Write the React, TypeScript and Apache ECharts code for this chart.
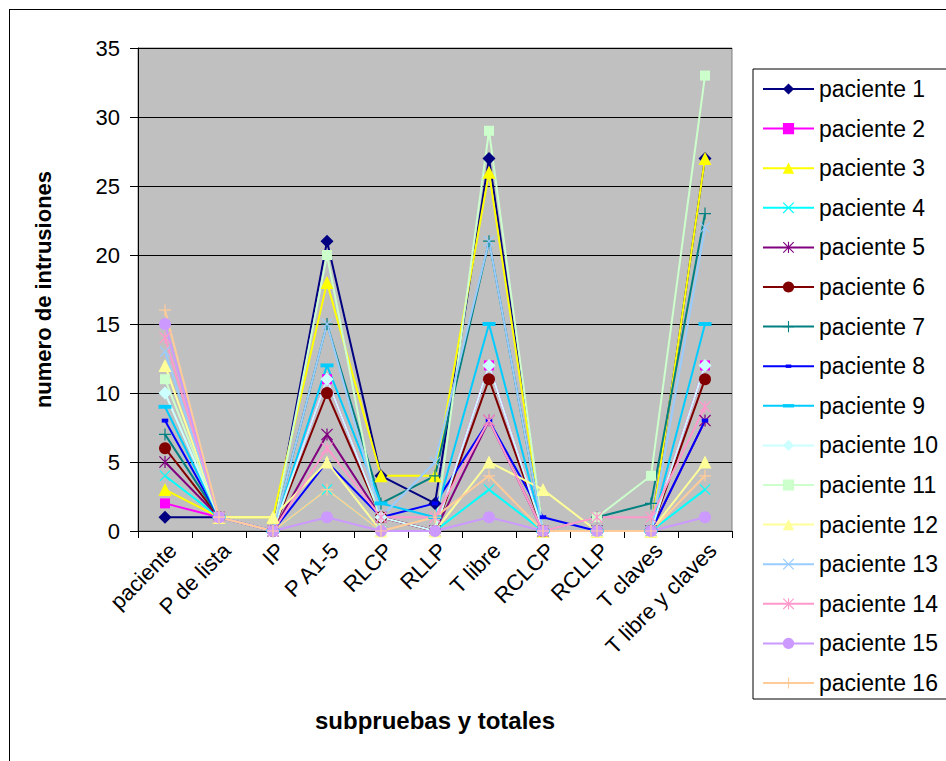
import React, { useEffect, useRef } from "react";
import * as echarts from "echarts";

const categories = [
  "paciente",
  "P de lista",
  "IP",
  "P A1-5",
  "RLCP",
  "RLLP",
  "T libre",
  "RCLCP",
  "RCLLP",
  "T claves",
  "T libre y claves",
];

const p1 = [1, 1, 0, 21, 4, 2, 27, 0, 0, 0, 27];
const p2 = [2, 1, 0, 11, 1, 0, 12, 0, 0, 0, 12];
const p3 = [3, 1, 1, 18, 4, 4, 26, 0, 0, 0, 27];
const p4 = [4, 1, 0, 3, 0, 0, 3, 0, 0, 0, 3];
const p5 = [5, 1, 0, 7, 1, 0, 8, 0, 0, 0, 8];
const p6 = [6, 1, 0, 10, 1, 0, 11, 0, 0, 0, 11];
const p7 = [7, 1, 0, 15, 2, 4, 21, 0, 1, 2, 23];
const p8 = [8, 1, 0, 5, 1, 2, 8, 1, 0, 0, 8];
const p9 = [9, 1, 0, 12, 2, 1, 15, 0, 0, 0, 15];
const p10 = [10, 1, 0, 11, 1, 0, 12, 0, 0, 0, 12];
const p11 = [11, 1, 0, 20, 0, 0, 29, 0, 1, 4, 33];
const p12 = [12, 1, 1, 5, 0, 0, 5, 3, 0, 0, 5];
const p13 = [13, 1, 0, 15, 1, 5, 21, 0, 0, 0, 22];
const p14 = [14, 1, 0, 6, 1, 1, 8, 0, 1, 1, 9];
const p15 = [15, 1, 0, 1, 0, 0, 1, 0, 0, 0, 1];
const p16 = [16, 1, 0, 3, 0, 1, 4, 0, 0, 0, 4];

const seriesNames = [
  "paciente 1", "paciente 2", "paciente 3", "paciente 4",
  "paciente 5", "paciente 6", "paciente 7", "paciente 8",
  "paciente 9", "paciente 10", "paciente 11", "paciente 12",
  "paciente 13", "paciente 14", "paciente 15", "paciente 16",
];
const seriesValues = [p1, p2, p3, p4, p5, p6, p7, p8, p9, p10, p11, p12, p13, p14, p15, p16];

const colors = [
  "#000080", "#FF00FF", "#FFFF00", "#00FFFF",
  "#800080", "#800000", "#008080", "#0000FF",
  "#00CCFF", "#CCFFFF", "#CCFFCC", "#FFFF99",
  "#99CCFF", "#FF99CC", "#CC99FF", "#FFCC99",
];

const X_PATH = "path://M0,0.7 L0.7,0 L5,4.3 L9.3,0 L10,0.7 L5.7,5 L10,9.3 L9.3,10 L5,5.7 L0.7,10 L0,9.3 L4.3,5 Z";
const STAR_PATH = "path://M4.5,0 L5.5,0 L5.5,3.8 L9.3,0 L10,0.7 L5.7,5 L10,9.3 L9.3,10 L5.5,6.2 L5.5,10 L4.5,10 L4.5,6.2 L0.7,10 L0,9.3 L4.3,5 L0,0.7 L0.7,0 L4.5,3.8 Z";
const PLUS_PATH = "path://M4.5,0 L5.5,0 L5.5,4.5 L10,4.5 L10,5.5 L5.5,5.5 L5.5,10 L4.5,10 L4.5,5.5 L0,5.5 L0,4.5 L4.5,4.5 Z";
const DASH_PATH = "path://M0,0 M0,3.5 L10,3.5 L10,6.5 L0,6.5 Z M10,10";
const SDASH_PATH = "path://M0,0 M2.5,3.5 L7.5,3.5 L7.5,6.5 L2.5,6.5 Z M10,10";

const symbols = [
  "diamond", "rect", "triangle", X_PATH,
  STAR_PATH, "circle", PLUS_PATH, SDASH_PATH,
  DASH_PATH, "diamond", "rect", "triangle",
  X_PATH, STAR_PATH, "circle", PLUS_PATH,
];
const symbolSizes = [13, 10, 13, 11, 12, 12, 12, 13, 13, 13, 10, 13, 11, 12, 12, 12];

const FONT = "'Liberation Sans', Arial, sans-serif";

export default function App() {
  const ref = useRef<HTMLDivElement>(null);
  useEffect(() => {
    if (!ref.current) return;
    const chart = echarts.init(ref.current, null, { renderer: "svg" });
    const series = seriesNames.map((name, i) => ({
      name,
      type: "line",
      data: seriesValues[i],
      symbol: symbols[i],
      symbolSize: symbolSizes[i],
      showAllSymbol: true,
      lineStyle: { color: colors[i], width: 2 },
      itemStyle: { color: colors[i], borderColor: colors[i], borderWidth: 0 },
      emphasis: { disabled: true },
    }));
    chart.setOption({
      animation: false,
      backgroundColor: "#ffffff",
      textStyle: { fontFamily: FONT },
      grid: {
        left: 138,
        top: 48,
        width: 594,
        height: 483,
        show: true,
        backgroundColor: "#C0C0C0",
        borderColor: "#808080",
        borderWidth: 1,
      },
      legend: {
        orient: "vertical",
        left: 753,
        top: 69,
        itemWidth: 51,
        itemHeight: 14,
        itemGap: 15.6,
        padding: [8, 40, 4, 9],
        borderColor: "#000000",
        borderWidth: 1,
        backgroundColor: "#ffffff",
        textStyle: { fontSize: 23, color: "#000000", fontFamily: FONT, lineHeight: 24 },
        data: seriesNames,
      },
      xAxis: {
        type: "category",
        data: categories,
        boundaryGap: true,
        name: "subpruebas y totales",
        nameLocation: "middle",
        nameGap: 177,
        nameTextStyle: { fontSize: 24, fontWeight: "bold", color: "#000000", fontFamily: FONT },
        axisLine: { lineStyle: { color: "#000000", width: 1 } },
        axisTick: { show: true, alignWithLabel: false, length: 7, lineStyle: { color: "#000000" } },
        axisLabel: {
          rotate: 45,
          interval: 0,
          fontSize: 22,
          color: "#000000",
          margin: 8,
          align: "right",
          verticalAlign: "top",
          fontFamily: FONT,
        },
        splitLine: { show: false },
      },
      yAxis: {
        type: "value",
        min: 0,
        max: 35,
        interval: 5,
        name: "numero de intrusiones",
        nameLocation: "middle",
        nameGap: 84,
        nameTextStyle: { fontSize: 22, fontWeight: "bold", color: "#000000", fontFamily: FONT },
        axisLine: { show: true, lineStyle: { color: "#000000", width: 1 } },
        axisTick: { show: true, length: 8, lineStyle: { color: "#000000" } },
        axisLabel: { fontSize: 22, color: "#000000", margin: 18, fontFamily: FONT },
        splitLine: { show: true, lineStyle: { color: "#000000", width: 1 } },
      },
      graphic: [
        { type: "line", shape: { x1: 9, y1: 9.5, x2: 946, y2: 9.5 }, style: { stroke: "#000000", lineWidth: 1 } },
        { type: "line", shape: { x1: 9.5, y1: 9, x2: 9.5, y2: 761 }, style: { stroke: "#000000", lineWidth: 1 } },
      ],
      series,
    });
    return () => chart.dispose();
  }, []);
  return (
    <div
      ref={ref}
      style={{ position: "absolute", left: 0, top: 0, width: 946, height: 761 }}
    />
  );
}
